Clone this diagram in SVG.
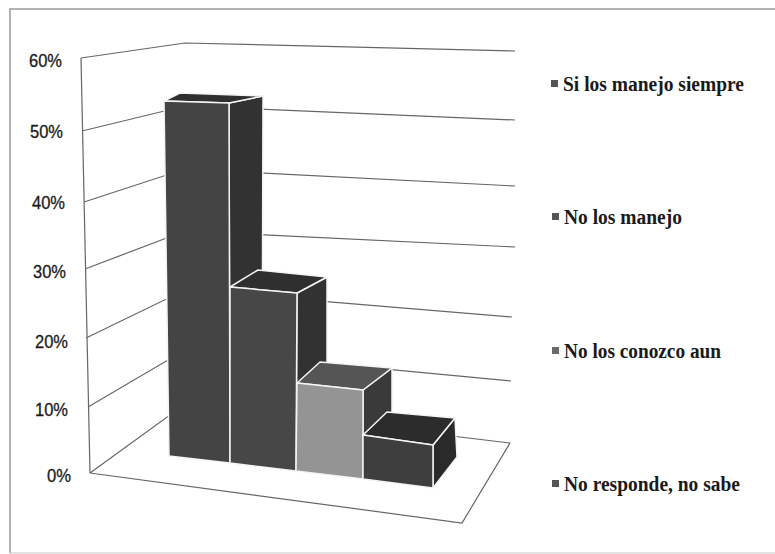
<svg xmlns="http://www.w3.org/2000/svg" width="775" height="554" viewBox="0 0 775 554">
<style>
.grid{stroke:#666666;stroke-width:1.2;fill:none}
.frame{stroke:#9a9a9a;stroke-width:1.5;fill:none}
.axis{font-family:"Liberation Sans",Arial,sans-serif;font-size:18px;fill:#1a1a1a;text-anchor:end;stroke:#1a1a1a;stroke-width:0.3}
.leg{font-family:"Liberation Serif","Times New Roman",serif;font-size:20px;font-weight:bold;fill:#1a1a1a}
.edge{stroke:#f4f4f4;stroke-width:1.5;stroke-linejoin:round}
.dk-front{fill:#444444}
.dk-top{fill:#2f2f2f}
.dk-right{fill:#323232}
</style>
<rect width="775" height="554" fill="#ffffff"/>
<g id="frame">
<path class="frame" d="M10,553 V9 H775"/>
<line x1="10" y1="553" x2="775" y2="553" stroke="#c8c8c8" stroke-width="1"/>
</g>
<g id="walls">
<line class="grid" x1="81" y1="58" x2="90" y2="473"/>
<polyline class="grid" points="81,58 185,43 515,51"/>
<polyline class="grid" points="82,131 185,106 515,120"/>
<polyline class="grid" points="84,202 185,169 515,186"/>
<polyline class="grid" points="85,269 185,231 515,247"/>
<polyline class="grid" points="86,338 185,290 512,317"/>
<polyline class="grid" points="88,407 185,350 511,381"/>
<polyline class="grid" points="90,473 185,404 510,443"/>
<polyline class="grid" points="90,473 462,523 510,443"/>
</g>
<g id="bar-si-los-manejo-siempre">
<polygon class="dk-right edge" points="229,103 263,96 262,440 230,463"/>
<polygon class="dk-top edge" points="164,101 229,103 263,96 180,93"/>
<polygon class="dk-front edge" points="164,101 229,103 230,463 169,456"/>
</g>
<g id="bar-no-los-manejo">
<polygon class="dk-right edge" points="297,293 327,277 327,452 296,471"/>
<polygon class="dk-top edge" points="230,287 297,293 327,277 258,270"/>
<polygon class="edge" fill="#474747" points="230,287 297,293 296,471 230,463"/>
</g>
<g id="bar-no-los-conozco-aun">
<polygon class="edge" fill="#3a3a3a" points="363,390 392,368 392,458 363,479"/>
<polygon class="edge" fill="#555555" points="297,383 363,390 392,368 320,362"/>
<polygon class="edge" fill="#949494" points="297,383 363,390 363,479 296,471"/>
</g>
<g id="bar-no-responde-no-sabe">
<polygon class="edge" fill="#2a2a2a" points="433,445 455,418 457,457 433,488"/>
<polygon class="edge" fill="#2c2c2c" points="363,435 433,445 455,418 387,412"/>
<polygon class="edge" fill="#3e3e3e" points="363,435 433,445 433,488 363,479"/>
</g>
<g id="axis-labels">
<text class="axis" x="62" y="67" textLength="33" lengthAdjust="spacingAndGlyphs">60%</text>
<text class="axis" x="63" y="138" textLength="33" lengthAdjust="spacingAndGlyphs">50%</text>
<text class="axis" x="65" y="209" textLength="33" lengthAdjust="spacingAndGlyphs">40%</text>
<text class="axis" x="66" y="278" textLength="33" lengthAdjust="spacingAndGlyphs">30%</text>
<text class="axis" x="68" y="348" textLength="33" lengthAdjust="spacingAndGlyphs">20%</text>
<text class="axis" x="68" y="416" textLength="33" lengthAdjust="spacingAndGlyphs">10%</text>
<text class="axis" x="71" y="482" textLength="24" lengthAdjust="spacingAndGlyphs">0%</text>
</g>
<g id="legend-si">
<rect x="551" y="80" width="7" height="7" fill="#555555"/>
<text class="leg" x="563" y="91" textLength="181" lengthAdjust="spacingAndGlyphs">Si los manejo siempre</text>
</g>
<g id="legend-no-manejo">
<rect x="552" y="213" width="7" height="7" fill="#555555"/>
<text class="leg" x="564" y="224" textLength="118" lengthAdjust="spacingAndGlyphs">No los manejo</text>
</g>
<g id="legend-no-conozco">
<rect x="552" y="347" width="7" height="7" fill="#6a6a6a"/>
<text class="leg" x="564" y="358" textLength="157" lengthAdjust="spacingAndGlyphs">No los conozco aun</text>
</g>
<g id="legend-no-responde">
<rect x="552" y="480" width="7" height="7" fill="#555555"/>
<text class="leg" x="564" y="491" textLength="176" lengthAdjust="spacingAndGlyphs">No responde, no sabe</text>
</g>
</svg>
